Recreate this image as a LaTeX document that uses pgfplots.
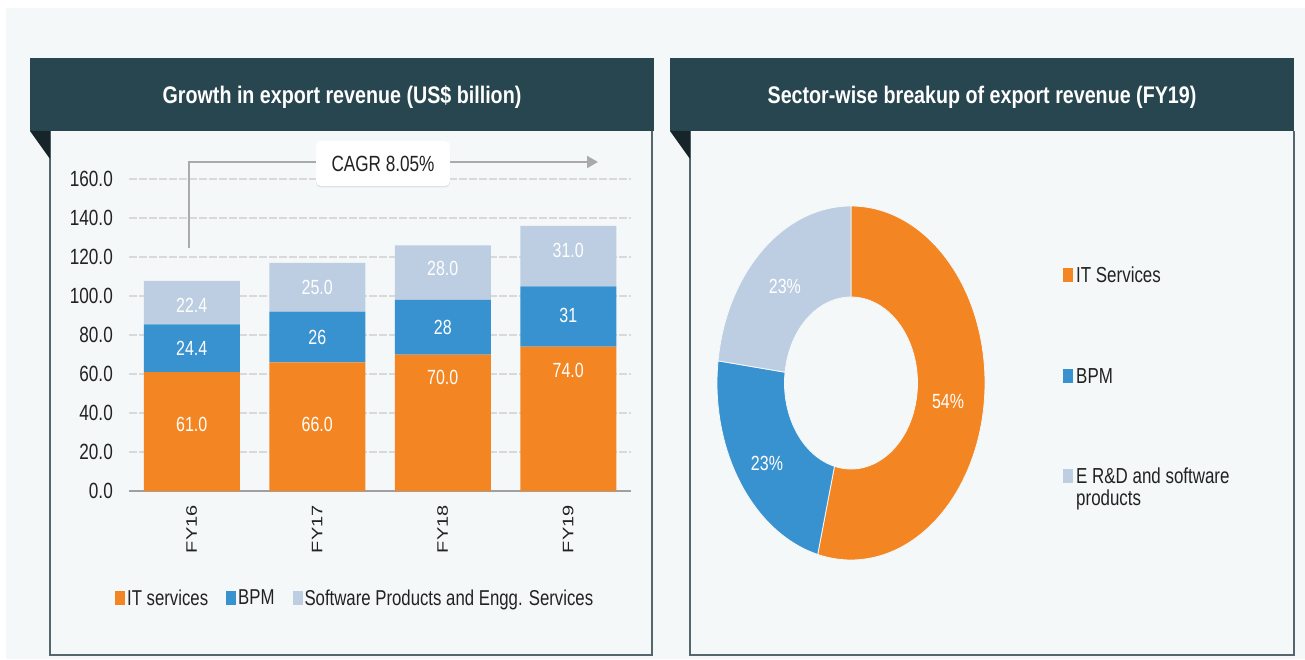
\documentclass[border=0pt]{standalone}
\usepackage{graphicx}
\usepackage{pgfplots}
\pgfplotsset{compat=1.18}
\usepackage{pgfplotstable}
\usepackage{fontspec}
\setmainfont{Liberation Sans}[FakeStretch=0.78]
\newfontfamily\plainfont{Liberation Sans}
\newfontfamily\titlefam{Liberation Sans}[FakeStretch=0.82]
\usetikzlibrary{arrows.meta,shadows}

\definecolor{orangec}{HTML}{F38622}
\definecolor{bluec}{HTML}{3992D0}
\definecolor{lightc}{HTML}{BDCDE2}
\definecolor{headc}{HTML}{28464F}
\definecolor{foldc}{HTML}{16252A}
\definecolor{bgc}{HTML}{F4F8F9}
\definecolor{borderc}{HTML}{55666C}
\definecolor{textc}{HTML}{222222}
\definecolor{gridc}{HTML}{D9D9D9}
\definecolor{axisc}{HTML}{A0A0A0}
\definecolor{arrowc}{HTML}{AAAAAA}

\newcommand\titlefont{\titlefam\fontsize{24}{28}\selectfont\bfseries}
\newcommand\tickfont{\fontsize{22}{26}\selectfont}
\newcommand\labfont{\fontsize{20.5}{24}\selectfont}
\newcommand\legfont{\fontsize{21.5}{25}\selectfont}
\newcommand\cagrfont{\fontsize{22}{26}\selectfont}
\newcommand\rlegfont{\fontsize{21.7}{25}\selectfont}
\newcommand\fyfont{\plainfont\fontsize{20}{24}\selectfont}

\tikzset{lab/.style={text=white, font=\labfont, inner sep=0pt}}

\pgfplotstableread{
x cat it bpm sw
0 FY16 61.0 24.4 22.4
1 FY17 66.0 26.0 25.0
2 FY18 70.0 28.0 28.0
3 FY19 74.0 31.0 31.0
}\revtable

\pgfplotstableread{
sector share
IT 54
BPM 23
ERD 23
}\sharetable

\newcommand\donutslice[3]{%
  \fill[#3, draw=bgc, line width=0.8pt]
    (axis cs:{cos(#1)},{sin(#1)})
    arc[start angle=#1, end angle=#2, x radius=134pt, y radius=177pt]
    -- (axis cs:{0.4963*cos(#2)},{0.4859*sin(#2)})
    arc[start angle=#2, end angle=#1, x radius=66.5pt, y radius=86pt]
    -- cycle;}

\pgfplotsset{barframe/.style={
  at={(129pt,168pt)}, anchor=south west,
  scale only axis, width=502pt, height=312pt,
  xmin=-0.5, xmax=3.5, ymin=0, ymax=160}}

\begin{document}
\begin{tikzpicture}[x=1pt,y=1pt]
% background
\fill[white] (0,0) rectangle (1305,659);
\fill[bgc] (6,0) rectangle (1305,651);

% left panel
\fill[bgc] (50,4) rectangle (652,528);
\draw[borderc, line width=1.2pt] (50,528) -- (50,4) -- (652,4) -- (652,528);
\fill[headc] (30,528) rectangle (654,601);
\fill[foldc] (30,528) -- (50,528) -- (50,500) -- cycle;
\node[text=white, font=\titlefont] at (342,562) {Growth in export revenue (US\$ billion)};

% right panel
\fill[bgc] (690,4) rectangle (1294,528);
\draw[borderc, line width=1.2pt] (690,528) -- (690,4) -- (1294,4) -- (1294,528);
\fill[headc] (670,528) rectangle (1294,601);
\fill[foldc] (670,528) -- (690,528) -- (690,500) -- cycle;
\node[text=white, font=\titlefont] at (982,562) {Sector-wise breakup of export revenue (FY19)};

% bar chart
\begin{axis}[
  barframe,
  ybar stacked, bar width=96pt,
  axis lines*=left,
  y axis line style={draw=none},
  x axis line style={axisc, line width=1.2pt},
  xtick={0,1,2,3},
  xticklabels={\scalebox{1}[0.76]{FY16},\scalebox{1}[0.76]{FY17},\scalebox{1}[0.76]{FY18},\scalebox{1}[0.76]{FY19}},
  xtick style={draw=none},
  extra x ticks={-0.5,0.5,1.5,2.5,3.5},
  extra x tick labels={},
  extra x tick style={major tick length=7pt, tick align=outside, tick style={axisc, line width=1.2pt}},
  ytick={0,20,...,160},
  yticklabels={0.0,20.0,40.0,60.0,80.0,100.0,120.0,140.0,160.0},
  ytick style={draw=none},
  ymajorgrids,
  grid style={gridc, line width=1.2pt, dash pattern=on 8pt off 2pt},
  xticklabel style={font=\fyfont, text=textc, inner sep=0pt, yshift=-14pt, rotate=90, anchor=east},
  yticklabel style={font=\tickfont, text=textc, inner sep=0pt, xshift=-16pt, anchor=east},
  /pgf/number format/assume math mode=true,
  clip=false,
  legend columns=-1,
  legend style={at={(axis description cs:-0.028,-0.343)}, anchor=west, draw=none, fill=none,
    font=\legfont, text=textc, inner sep=0pt,
    /tikz/every even column/.append style={column sep=16pt}},
  legend image code/.code={\fill[#1, draw=none] (0pt,-7pt) rectangle (10pt,7pt);},
]
\addplot[fill=orangec, draw=none] table[x=x, y=it]{\revtable};
\addplot[fill=bluec, draw=none] table[x=x, y=bpm]{\revtable};
\addplot[fill=lightc, draw=none] table[x=x, y=sw]{\revtable};
\legend{IT services, BPM, Software Products and Engg. Services}
\end{axis}

% value labels on the bars (same frame as the bar axis)
\begin{axis}[barframe, axis lines=none, clip=false]
\node[lab] at (axis cs:0,34) {61.0};
\node[lab] at (axis cs:0,73) {24.4};
\node[lab] at (axis cs:0,95) {22.4};
\node[lab] at (axis cs:1,34) {66.0};
\node[lab] at (axis cs:1,78.5) {26};
\node[lab] at (axis cs:1,104.6) {25.0};
\node[lab] at (axis cs:2,58) {70.0};
\node[lab] at (axis cs:2,84) {28};
\node[lab] at (axis cs:2,114) {28.0};
\node[lab] at (axis cs:3,62) {74.0};
\node[lab] at (axis cs:3,90) {31};
\node[lab] at (axis cs:3,123.6) {31.0};
\end{axis}

% CAGR arrow
\draw[arrowc, line width=2pt, -{Triangle[length=11pt,width=12pt]}] (189,411) -- (189,497) -- (598,497);
\node[fill=white, rounded corners=5pt, minimum width=134pt, minimum height=45pt,
  drop shadow={shadow xshift=0pt, shadow yshift=-1.5pt, opacity=0.18},
  text=textc, font=\cagrfont] at (383,495.5) {CAGR 8.05\%};

% donut angles from the data
\pgfplotstablegetelem{0}{share}\of\sharetable \pgfmathsetmacro\sA{\pgfplotsretval}
\pgfplotstablegetelem{1}{share}\of\sharetable \pgfmathsetmacro\sB{\pgfplotsretval}
\pgfplotstablegetelem{2}{share}\of\sharetable \pgfmathsetmacro\sC{\pgfplotsretval}
\pgfmathsetmacro\aA{90}
\pgfmathsetmacro\aB{\aA-3.6*\sA}
\pgfmathsetmacro\aC{\aB-3.6*\sB}
\pgfmathsetmacro\aD{\aC-3.6*\sC}

\begin{axis}[
  at={(717pt,99pt)}, anchor=south west,
  scale only axis, width=268pt, height=354pt,
  xmin=-1, xmax=1, ymin=-1, ymax=1,
  axis lines=none, clip=false,
]
\donutslice{\aA}{\aB}{orangec}
\donutslice{\aB}{\aC}{bluec}
\donutslice{\aC}{\aD}{lightc}
\node[lab] at (axis cs:0.724,-0.107) {54\%};
\node[lab] at (axis cs:-0.627,-0.452) {23\%};
\node[lab] at (axis cs:-0.493,0.548) {23\%};
\end{axis}

% right legend
\fill[orangec] (1063,377) rectangle (1073,391);
\node[anchor=west, inner sep=0pt, text=textc, font=\rlegfont] at (1076,384) {IT Services};
\fill[bluec] (1063,276) rectangle (1073,290);
\node[anchor=west, inner sep=0pt, text=textc, font=\rlegfont] at (1076,283) {BPM};
\fill[lightc] (1063,176) rectangle (1073,190);
\node[anchor=west, inner sep=0pt, text=textc, font=\rlegfont] at (1076,183) {E R\&D and software};
\node[anchor=west, inner sep=0pt, text=textc, font=\rlegfont] at (1076,159) {products};

\pgfresetboundingbox
\useasboundingbox (0,0) rectangle (1305,659);
\end{tikzpicture}
\end{document}
